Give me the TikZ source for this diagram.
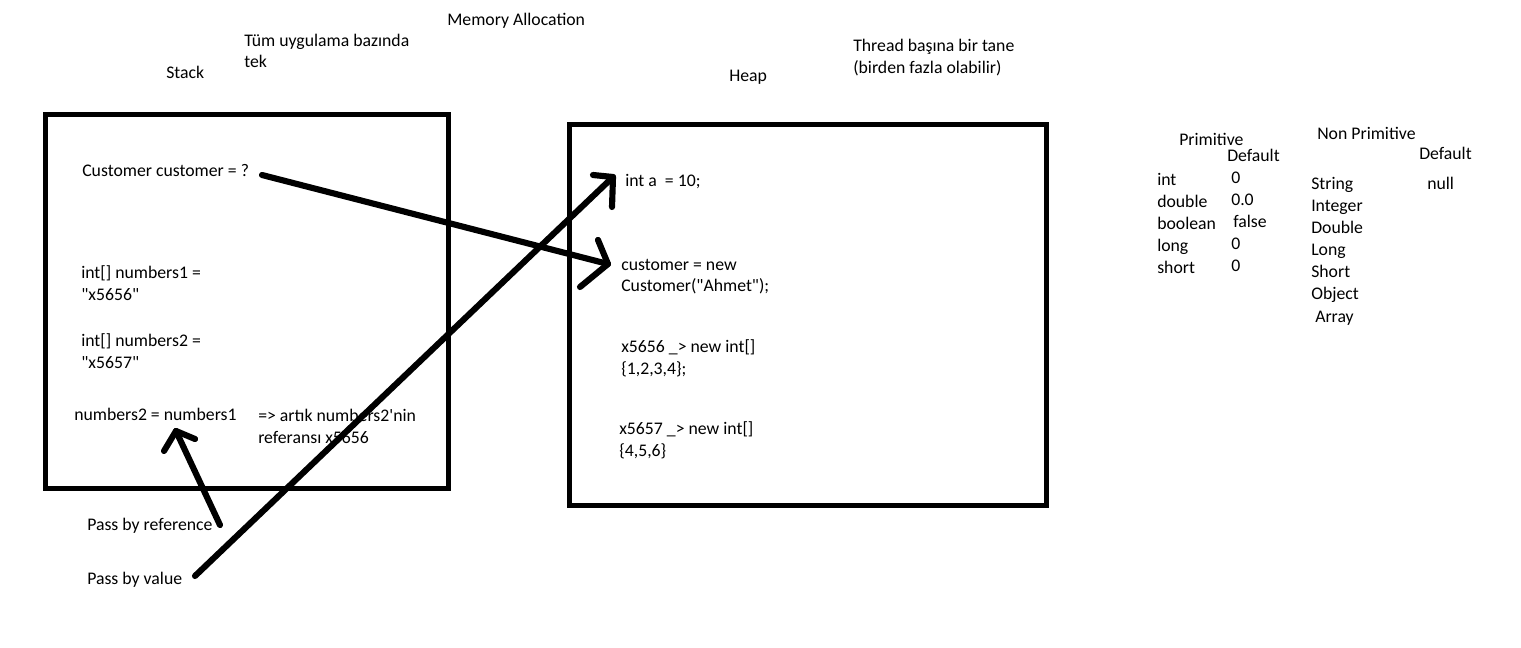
\documentclass[tikz,border=0pt]{standalone}
\usepackage{fontspec}
\setmainfont{Carlito}[Ligatures=TeXOff]
\begin{document}
\begin{tikzpicture}[x=0.75pt,y=-0.75pt,
  txt/.style={anchor=base west,inner sep=0pt,yshift=-1.1pt,font=\fontsize{13.3}{15}\selectfont},
  frame/.style={line width=3.75pt,line join=miter},
  pen/.style={line width=4.6pt,line cap=round,line join=round}]
\useasboundingbox[fill=white] (0,0) rectangle (1521,648);
% boxes
\draw[frame] (45,114.5) rectangle (448,488);
\draw[frame] (569,125) rectangle (1046,505);
% titles
\node[txt] (mem) at (447,24) {Memory Allocation};
\node[txt] (tum1) at (244,45) {Tüm uygulama bazında};
\node[txt] (tum2) at (244,66) {tek};
\node[txt] (stack) at (166,77) {Stack};
\node[txt] (heap) at (729,80) {Heap};
\node[txt] (thr1) at (853,50) {Thread başına bir tane};
\node[txt] (thr2) at (853,72) {(birden fazla olabilir)};
% stack contents
\node[txt] (cust) at (82,175) {Customer customer = ?};
\node[txt] (n1a) at (81,277) {int[] numbers1 =};
\node[txt] (n1b) at (81,299) {"x5656"};
\node[txt] (n2a) at (81,345) {int[] numbers2 =};
\node[txt] (n2b) at (81,367) {"x5657"};
\node[txt] (asg) at (74,419) {numbers2 = numbers1};
\node[txt] (art1) at (258,420) {=> artık numbers2'nin};
\node[txt] (art2) at (258,442) {referansı x5656};
\node[txt] (pref) at (87,529) {Pass by reference};
\node[txt] (pval) at (87,583) {Pass by value};
% heap contents
\node[txt] (inta) at (625,185) {int a\ \ = 10;};
\node[txt] (cn1) at (621,269) {customer = new};
\node[txt] (cn2) at (621,290) {Customer("Ahmet");};
\node[txt] (x1a) at (621,351) {x5656 \_> new int[]};
\node[txt] (x1b) at (621,373) {\{1,2,3,4\};};
\node[txt] (x2a) at (619,433) {x5657 \_> new int[]};
\node[txt] (x2b) at (619,455) {\{4,5,6\}};
% primitive table
\node[txt] (prim) at (1179,144) {Primitive};
\node[txt] (pdef) at (1227,160) {Default};
\node[txt] (pint) at (1157,184) {int};
\node[txt] (pdbl) at (1157,206) {double};
\node[txt] (pbool) at (1157,228) {boolean};
\node[txt] (plong) at (1157,250) {long};
\node[txt] (pshort) at (1157,272) {short};
\node[txt] (v1) at (1231,182) {0};
\node[txt] (v2) at (1231,204) {0.0};
\node[txt] (v3) at (1233,226) {false};
\node[txt] (v4) at (1231,248) {0};
\node[txt] (v5) at (1231,270) {0};
% non primitive table
\node[txt] (nprim) at (1317,138) {Non Primitive};
\node[txt] (ndef) at (1419,158) {Default};
\node[txt] (nstr) at (1311,188) {String};
\node[txt] (nint) at (1311,210) {Integer};
\node[txt] (ndbl) at (1311,232) {Double};
\node[txt] (nlong) at (1311,254) {Long};
\node[txt] (nshort) at (1311,276) {Short};
\node[txt] (nobj) at (1311,298) {Object};
\node[txt] (narr) at (1315,321) {Array};
\node[txt] (nnull) at (1427,188) {null};
% arrow coordinates
\coordinate (c1s) at (262,175);
\coordinate (c1t) at (608,264);
\coordinate (c2s) at (195,576);
\coordinate (c2t) at (613,177);
\coordinate (c3s) at (220,525);
\coordinate (c3t) at (176,431);
% arrows
\draw[pen] (c1s) -- (c1t);
\draw[pen] (c1t) ++(-10,-24) -- (c1t) -- ++(-28,23);
\draw[pen] (c2s) -- (c2t);
\draw[pen] (c2t) ++(-20,-2) -- (c2t) -- ++(-1,30);
\draw[pen] (c3s) -- (c3t);
\draw[pen] (c3t) ++(-12,20) -- (c3t) -- ++(19,8);
\end{tikzpicture}
\end{document}
